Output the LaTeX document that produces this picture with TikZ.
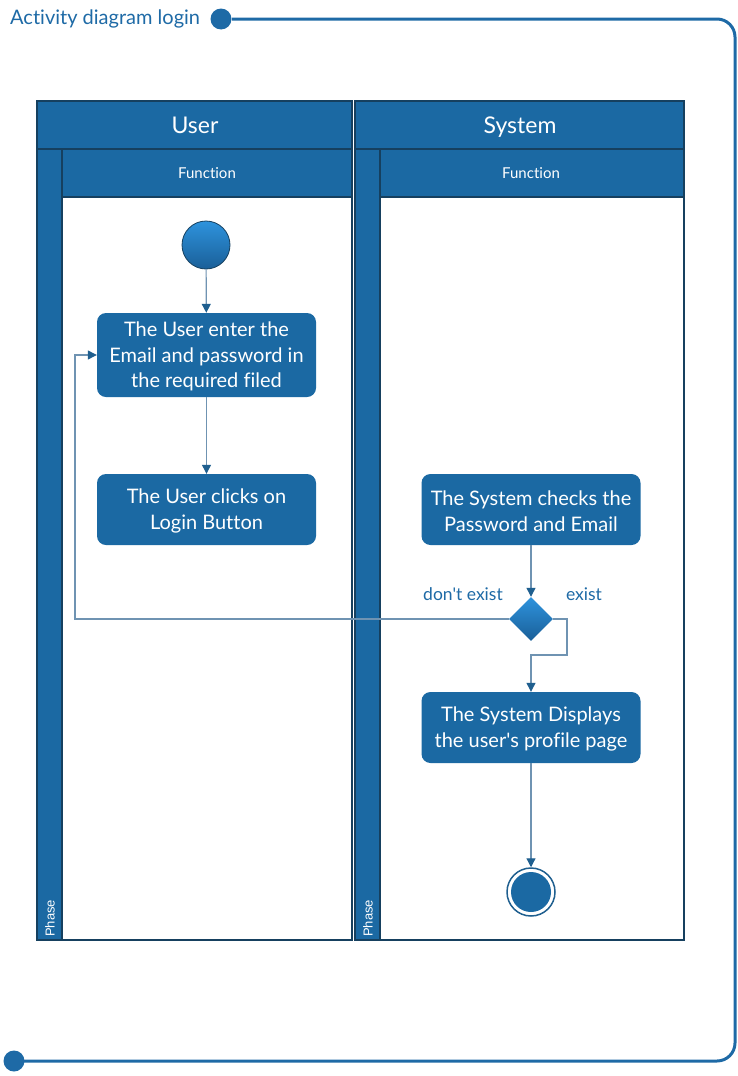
\documentclass[tikz,border=0pt]{standalone}
\usepackage{fontspec}
\setmainfont{Lato}[Ligatures={TeXOff,CommonOff}]
\newfontfamily\arialf{Liberation Sans}
\usetikzlibrary{arrows.meta,shapes.geometric}
\definecolor{lanefill}{HTML}{1B69A3}
\definecolor{laneedge}{HTML}{16405F}
\definecolor{titleblue}{HTML}{1E6AA6}
\definecolor{linec}{HTML}{6F93B2}
\definecolor{arrowc}{HTML}{1F5F8F}
\definecolor{startlight}{HTML}{2E93DD}
\definecolor{startdark}{HTML}{1A5F98}
\tikzset{
  lane/.style={draw=laneedge, line width=1.6pt, fill=lanefill},
  laneinner/.style={draw=laneedge, line width=1.6pt, fill=white},
  act/.style={rounded corners=9pt, fill=lanefill, draw=none, text=white, align=center,
    minimum width=219pt, font=\fontsize{20pt}{25.5pt}\selectfont, inner sep=0pt},
  acttext/.style={text=white, align=center, font=\fontsize{20pt}{25.5pt}\selectfont, inner sep=0pt},
  conn/.style={draw=linec, line width=1.2pt, -{Triangle[length=9pt,width=9pt,color=arrowc]}},
  frameline/.style={draw=titleblue, line width=3pt},
  guard/.style={text=titleblue, font=\fontsize{17.5pt}{19pt}\selectfont},
  lanehead/.style={text=white, font=\fontsize{23pt}{26pt}\selectfont, anchor=base, inner sep=0pt},
  funchead/.style={text=white, font=\fontsize{15pt}{17pt}\selectfont},
  phaselabel/.style={text=white, font=\arialf\fontsize{13pt}{15pt}\selectfont, rotate=90, anchor=west, inner sep=0pt},
}
\begin{document}
\begin{tikzpicture}[x=1pt,y=-1pt]
\useasboundingbox (0,0) rectangle (738,1076);
% frame
\node[anchor=west, text=titleblue, font=\fontsize{20pt}{23pt}\selectfont, inner sep=0pt] (title) at (10,19) {Activity diagram login};
\fill[titleblue] (221,19) circle (10.5);
\fill[titleblue] (14,1061) circle (10.5);
\coordinate (ftop) at (232,19);
\coordinate (fbot) at (24,1061);
\draw[frameline, rounded corners=18pt] (ftop) -- (735,19) -- (735,1061) -- (fbot);
% lanes
\draw[lane] (37,101) rectangle (352,940);
\draw[laneinner] (62,197) rectangle (352,940);
\draw[lane] (62,149) rectangle (352,197);
\draw[laneedge, line width=1.6pt] (37,149) -- (62,149);
\draw[lane] (355,101) rectangle (684,940);
\draw[laneinner] (380,197) rectangle (684,940);
\draw[lane] (380,149) rectangle (684,197);
\draw[laneedge, line width=1.6pt] (355,149) -- (380,149);
\node[lanehead] (huser) at (195,133) {User};
\node[lanehead] (hsys) at (520,133) {System};
\node[funchead] (fuser) at (207,173) {Function};
\node[funchead] (fsys) at (531,173) {Function};
\node[phaselabel] (puser) at (50,937) {Phase};
\node[phaselabel] (psys) at (368,937) {Phase};
% nodes
\node[circle, minimum size=48pt, inner sep=0pt, draw=laneedge, line width=0.8pt, top color=startlight, bottom color=startdark] (start) at (206,245) {};
\node[act, minimum height=84pt] (enter) at (206.5,355) {};
\node[acttext] (entert) at (206.5,356.5) {The User enter the\\Email and password in\\the required filed};
\node[act, minimum height=71pt] (click) at (206.5,509.5) {};
\node[acttext] (clickt) at (206.5,511) {The User clicks on\\Login Button};
\node[act, minimum height=71pt] (check) at (531,509.5) {};
\node[acttext] (checkt) at (531,511) {The System checks the\\Password and Email};
\node[diamond, minimum width=44pt, minimum height=44pt, inner sep=0pt, top color=startlight, bottom color=startdark] (dec) at (531,619) {};
\node[act, minimum height=71pt] (show) at (531,727.5) {};
\node[acttext] (showt) at (531,729) {The System Displays\\the user's profile page};
\node[circle, minimum size=48pt, inner sep=0pt, draw=arrowc, line width=1.5pt, fill=white] (endo) at (531,892) {};
\fill[lanefill] (endo.center) circle (20);
% connectors
\draw[conn] (start) -- (enter);
\draw[conn] (enter) -- (click);
\draw[conn] (check) -- (dec);
\coordinate (eb1) at (567,619);
\coordinate (eb2) at (567,655);
\coordinate (eb3) at (531,655);
\draw[conn] (dec.east) -- (eb1) -- (eb2) -- (eb3) -- (show);
\coordinate (lb1) at (75,619);
\coordinate (lb2) at (75,355);
\draw[conn] (dec.west) -- (lb1) -- (lb2) -- (enter.west);
\draw[conn] (show) -- (endo);
\node[guard] (gno) at (463,594) {don't exist};
\node[guard] (gyes) at (584,594) {exist};
\end{tikzpicture}
\end{document}
